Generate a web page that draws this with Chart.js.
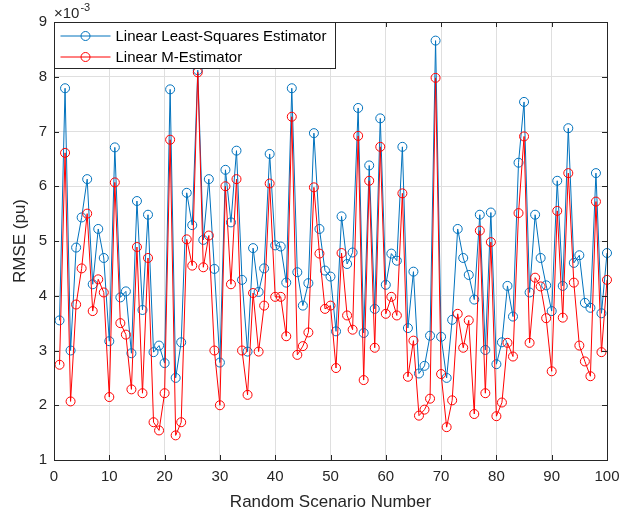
<!DOCTYPE html>
<html>
<head>
<meta charset="utf-8">
<script src="https://cdn.jsdelivr.net/npm/chart.js@4/dist/chart.umd.min.js"></script>
<style>
  html, body { margin: 0; padding: 0; background: #fff; }
  #wrap { width: 641px; height: 516px; }
</style>
</head>
<body>
<div id="wrap"><canvas id="chart-rmse" width="641" height="516"></canvas></div>
<script>
// scenario numbers (x) and RMSE values in units of 1e-3
var scenarios = [1,2,3,4,5,6,7,8,9,10,11,12,13,14,15,16,17,18,19,20,
  21,22,23,24,25,26,27,28,29,30,31,32,33,34,35,36,37,38,39,40,
  41,42,43,44,45,46,47,48,49,50,51,52,53,54,55,56,57,58,59,60,
  61,62,63,64,65,66,67,68,69,70,71,72,73,74,75,76,77,78,79,80,
  81,82,83,84,85,86,87,88,89,90,91,92,93,94,95,96,97,98,99,100];

var lsRmse = [3.55,7.79,3.00,4.88,5.43,6.13,4.21,5.22,4.69,3.17,
  6.71,3.97,4.08,2.95,5.73,3.74,5.48,2.97,3.09,2.77,
  7.77,2.50,3.15,5.88,5.29,8.12,5.02,6.13,4.49,2.78,
  6.30,5.34,6.65,4.29,2.98,4.87,4.07,4.50,6.59,4.92,
  4.90,4.24,7.79,4.43,3.82,4.23,6.97,5.22,4.46,4.35,
  3.35,5.45,4.58,4.79,7.43,3.32,6.38,3.76,7.24,4.20,
  4.77,4.64,6.72,3.41,4.44,2.58,2.72,3.27,8.66,3.25,
  2.50,3.56,5.22,4.69,4.38,3.93,5.48,3.01,5.52,2.75,
  3.15,4.18,3.62,6.43,7.54,4.06,5.48,4.69,4.19,3.72,
  6.10,4.18,7.06,4.60,4.74,3.87,3.78,6.24,3.68,4.78];

var mRmse = [2.74,6.61,2.07,3.84,4.50,5.50,3.72,4.30,4.06,2.15,
  6.07,3.50,3.29,2.29,4.89,2.22,4.69,1.69,1.54,2.22,
  6.85,1.45,1.69,5.03,4.55,8.08,4.52,5.10,3.00,2.00,
  6.00,4.21,6.13,3.00,2.19,4.05,2.98,3.82,6.05,3.98,
  3.98,3.26,7.27,2.92,3.08,3.33,5.98,4.77,3.76,3.82,
  2.68,4.78,3.64,3.38,6.92,2.46,6.10,3.05,6.72,3.67,
  3.98,3.64,5.87,2.52,3.18,1.81,1.92,2.12,7.98,2.57,
  1.60,2.09,3.67,3.05,3.55,1.84,5.19,2.22,4.98,1.80,
  2.05,3.14,2.89,5.51,6.91,3.14,4.33,4.17,3.59,2.62,
  5.55,3.60,6.24,4.24,3.09,2.80,2.53,5.72,2.97,4.29];

var seriesNames = ['Linear Least-Squares Estimator', 'Linear M-Estimator'];
var seriesColors = ['#0072BD', '#FF0000'];
var xTicks = [0, 10, 20, 30, 40, 50, 60, 70, 80, 90, 100];
var yTicks = [1, 2, 3, 4, 5, 6, 7, 8, 9];

var AXIS_COLOR = '#262626';
var FONT = 'Liberation Sans, Arial, Helvetica, sans-serif';

function toPoints(values) {
    return values.map(function (v, i) { return { x: scenarios[i], y: v }; });
}

// box, inward ticks, exponent label and legend, drawn the MATLAB way
var matlabAxes = {
    id: 'matlabAxes',
    afterDraw: function (chart) {
        var ctx = chart.ctx, a = chart.chartArea;
        var xs = chart.scales.x, ys = chart.scales.y;
        ctx.save();
        ctx.strokeStyle = AXIS_COLOR;
        ctx.lineWidth = 1;
        ctx.beginPath();
        xTicks.forEach(function (t) {
            var px = Math.round(xs.getPixelForValue(t)) + 0.5;
            ctx.moveTo(px, a.bottom); ctx.lineTo(px, a.bottom - 5);
            ctx.moveTo(px, a.top); ctx.lineTo(px, a.top + 5);
        });
        yTicks.forEach(function (t) {
            var py = Math.round(ys.getPixelForValue(t)) + 0.5;
            ctx.moveTo(a.left, py); ctx.lineTo(a.left + 5, py);
            ctx.moveTo(a.right, py); ctx.lineTo(a.right - 5, py);
        });
        ctx.stroke();
        ctx.strokeRect(Math.round(a.left) + 0.5, Math.round(a.top) + 0.5,
            Math.round(a.right - a.left), Math.round(a.bottom - a.top));

        // exponent
        ctx.fillStyle = AXIS_COLOR;
        ctx.textBaseline = 'alphabetic';
        ctx.textAlign = 'left';
        ctx.font = '15px ' + FONT;
        ctx.fillText('\u00d710', a.left, a.top - 4);
        var w = ctx.measureText('\u00d710').width;
        ctx.font = '11px ' + FONT;
        ctx.fillText('-3', a.left + w + 1, a.top - 11);

        // legend
        var lx = Math.round(a.left) + 0.5, ly = Math.round(a.top) + 0.5;
        var lw = 281, lh = 46;
        ctx.fillStyle = '#ffffff';
        ctx.fillRect(lx, ly, lw, lh);
        ctx.strokeStyle = AXIS_COLOR;
        ctx.strokeRect(lx, ly, lw, lh);
        ctx.font = '15px ' + FONT;
        ctx.textBaseline = 'middle';
        seriesNames.forEach(function (name, i) {
            var ry = ly + 13.5 + i * 21;
            ctx.strokeStyle = seriesColors[i];
            ctx.beginPath();
            ctx.moveTo(lx + 6, ry); ctx.lineTo(lx + 56, ry);
            ctx.stroke();
            ctx.beginPath();
            ctx.arc(lx + 31, ry, 4.5, 0, Math.PI * 2);
            ctx.stroke();
            ctx.fillStyle = '#000000';
            ctx.fillText(name, lx + 61, ry + 1);
        });
        ctx.restore();
    }
};

var ctx = document.getElementById('chart-rmse');
new Chart(ctx, {
    type: 'line',
    data: {
        datasets: [
            {
                label: seriesNames[0],
                data: toPoints(lsRmse),
                borderColor: seriesColors[0],
                backgroundColor: 'rgba(0,0,0,0)',
                pointBorderColor: seriesColors[0],
                pointBackgroundColor: 'rgba(0,0,0,0)',
                borderWidth: 1,
                pointRadius: 4.5,
                pointBorderWidth: 1,
                tension: 0,
                order: 1,
                clip: false
            },
            {
                label: seriesNames[1],
                data: toPoints(mRmse),
                borderColor: seriesColors[1],
                backgroundColor: 'rgba(0,0,0,0)',
                pointBorderColor: seriesColors[1],
                pointBackgroundColor: 'rgba(0,0,0,0)',
                borderWidth: 1,
                pointRadius: 4.5,
                pointBorderWidth: 1,
                tension: 0,
                order: 0,
                clip: false
            }]
    },
    options: {
        responsive: false,
        animation: false,
        devicePixelRatio: 1,
        layout: { padding: { top: 22, right: 34, left: 0, bottom: 0 } },
        plugins: { legend: { display: false }, tooltip: { enabled: false } },
        scales: {
            x: {
                type: 'linear',
                min: 0, max: 100,
                afterFit: function (s) { s.height = 56; },
                afterBuildTicks: function (s) { s.ticks = xTicks.map(function (v) { return { value: v }; }); },
                grid: { color: '#dfdfdf', drawTicks: false },
                border: { display: false },
                ticks: { color: AXIS_COLOR, padding: 8, font: { family: FONT, size: 15 }, maxRotation: 0 },
                title: { display: true, text: 'Random Scenario Number', color: AXIS_COLOR,
                    font: { family: FONT, size: 17, lineHeight: 1.2 }, padding: { top: 0, bottom: 3 } }
            },
            y: {
                min: 1, max: 9,
                afterFit: function (s) { s.width = 54; },
                afterBuildTicks: function (s) { s.ticks = yTicks.map(function (v) { return { value: v }; }); },
                grid: { color: '#dfdfdf', drawTicks: false },
                border: { display: false },
                ticks: { color: AXIS_COLOR, padding: 7, font: { family: FONT, size: 15 } },
                title: { display: true, text: 'RMSE (pu)', color: AXIS_COLOR,
                    font: { family: FONT, size: 17, lineHeight: 1.2 }, padding: { top: 10, bottom: 0 } }
            }
        }
    },
    plugins: [matlabAxes]
});
</script>
</body>
</html>
